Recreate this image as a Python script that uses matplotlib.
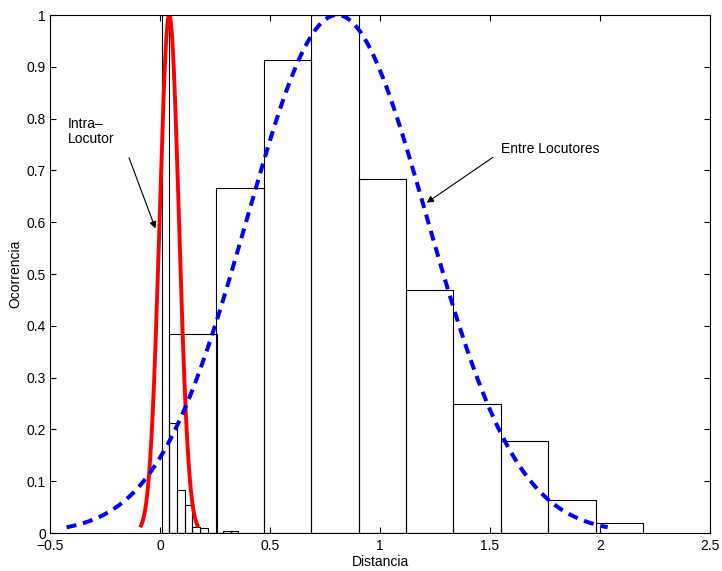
import numpy as np
import matplotlib
matplotlib.use("Agg")
import matplotlib.pyplot as plt

plt.rcParams['font.family'] = ['Liberation Sans', 'DejaVu Sans']

# Intra-speaker distance histogram (normalised occurrence)
intra_centers = [0.025, 0.060, 0.095, 0.129, 0.164, 0.199, 0.234, 0.268, 0.303, 0.338]
intra_counts = [1.0, 0.213, 0.084, 0.055, 0.011, 0.010, 0.001, 0.001, 0.004, 0.003]
intra_width = 0.0348

# Inter-speaker distance histogram (normalised occurrence)
inter_centers = [0.149, 0.364, 0.580, 0.795, 1.011, 1.226, 1.441, 1.657, 1.872, 2.088]
inter_counts = [0.385, 0.667, 0.913, 1.0, 0.683, 0.470, 0.250, 0.178, 0.063, 0.020]
inter_width = 0.2154

# Fitted normal curves (mean, standard deviation), peak scaled to 1
intra_mu, intra_sigma = 0.042, 0.044
inter_mu, inter_sigma = 0.805, 0.41

fig = plt.figure(figsize=(7.22, 5.71), dpi=100)
ax = fig.add_axes([0.0693, 0.0665, 0.9141, 0.9072])

ax.bar(intra_centers, intra_counts, width=intra_width, fill=False,
       edgecolor='black', linewidth=0.8)
ax.bar(inter_centers, inter_counts, width=inter_width, fill=False,
       edgecolor='black', linewidth=0.8)

def normal_curve(mu, sigma):
    x = np.linspace(mu - 3 * sigma, mu + 3 * sigma, 300)
    return x, np.exp(-0.5 * ((x - mu) / sigma) ** 2)

xr, yr = normal_curve(intra_mu, intra_sigma)
ax.plot(xr, yr, color='red', linewidth=2.8, solid_capstyle='butt')

xb, yb = normal_curve(inter_mu, inter_sigma)
ax.plot(xb, yb, color='blue', linewidth=2.9, linestyle=(0, (2.5, 1.7)),
        dash_capstyle='butt')

ax.annotate('', xy=(-0.021, 0.588), xytext=(-0.141, 0.7245),
            arrowprops=dict(arrowstyle='-|>', color='black', lw=0.8,
                            mutation_scale=10, shrinkA=0, shrinkB=0))
ax.text(-0.418, 0.775, 'Intra\u2013\nLocutor', ha='left', va='center',
        fontsize=10, linespacing=1.15)

ax.annotate('', xy=(1.212, 0.6376), xytext=(1.512, 0.725),
            arrowprops=dict(arrowstyle='-|>', color='black', lw=0.8,
                            mutation_scale=10, shrinkA=0, shrinkB=0))
ax.text(1.55, 0.741, 'Entre Locutores', ha='left', va='center', fontsize=10)

ax.set_xlim(-0.5, 2.5)
ax.set_ylim(0, 1)
ax.set_xticks([-0.5, 0, 0.5, 1, 1.5, 2, 2.5])
ax.set_xticklabels(['\u22120.5', '0', '0.5', '1', '1.5', '2', '2.5'])
ax.set_yticks(np.arange(0, 1.01, 0.1))
ax.set_yticklabels(['0', '0.1', '0.2', '0.3', '0.4', '0.5', '0.6', '0.7',
                    '0.8', '0.9', '1'])
ax.tick_params(direction='in', length=4, width=0.8, top=True, right=True,
               labelsize=10)
ax.tick_params(axis='x', pad=4)
ax.tick_params(axis='y', pad=3)
for s in ax.spines.values():
    s.set_linewidth(0.8)

ax.set_xlabel('Distancia', fontsize=10, labelpad=2)
ax.set_ylabel('Ocorrencia', fontsize=10, labelpad=3)

fig.savefig('out.png', dpi=100)
